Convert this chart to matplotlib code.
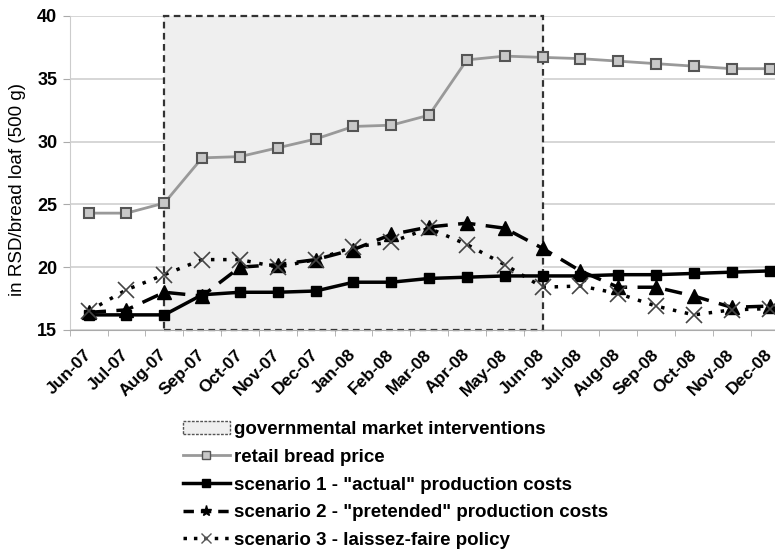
import matplotlib
matplotlib.use("Agg")
import matplotlib.pyplot as plt
from matplotlib.patches import Rectangle, Patch
from matplotlib.lines import Line2D

plt.rcParams['font.family'] = ['Liberation Sans', 'DejaVu Sans']
plt.rcParams['font.weight'] = 'bold'

# data
months = ['Jun-07', 'Jul-07', 'Aug-07', 'Sep-07', 'Oct-07', 'Nov-07', 'Dec-07',
          'Jan-08', 'Feb-08', 'Mar-08', 'Apr-08', 'May-08', 'Jun-08', 'Jul-08',
          'Aug-08', 'Sep-08', 'Oct-08', 'Nov-08', 'Dec-08']
retail = [24.3, 24.3, 25.1, 28.7, 28.8, 29.5, 30.2, 31.2, 31.3, 32.1, 36.5, 36.8,
          36.7, 36.6, 36.4, 36.2, 36.0, 35.8, 35.8]
scen1 = [16.2, 16.2, 16.2, 17.8, 18.0, 18.0, 18.1, 18.8, 18.8, 19.1, 19.2, 19.3,
         19.3, 19.3, 19.4, 19.4, 19.5, 19.6, 19.7]
scen2 = [16.4, 16.6, 18.0, 17.7, 20.0, 20.2, 20.6, 21.4, 22.6, 23.2, 23.5, 23.1,
         21.5, 19.7, 18.4, 18.4, 17.7, 16.8, 16.9]
scen3 = [16.5, 18.2, 19.4, 20.6, 20.6, 20.0, 20.6, 21.6, 22.0, 23.1, 21.8, 20.2,
         18.4, 18.5, 17.9, 16.9, 16.2, 16.6, 16.7]
interv_start, interv_end = 'Aug-07', 'Jun-08'

fig = plt.figure(figsize=(7.75, 5.49), dpi=100)
ax = fig.add_axes([0.09, 0.399, 0.92, 0.572])
x = list(range(len(months)))

# shaded period of interventions
i0, i1 = months.index(interv_start), months.index(interv_end)
ax.add_patch(Rectangle((i0, 15), i1 - i0, 25, facecolor='#efefef', edgecolor='#333333',
                       linestyle=(0, (3, 2)), linewidth=1.6, zorder=1, clip_on=False))

ax.plot(x, retail, color='#999999', lw=2, marker='s', ms=7, mfc='#c8c8c8',
        mec='#555555', mew=1.5, zorder=3)
ax.plot(x, scen1, color='black', lw=2.5, marker='s', ms=7, zorder=4)
ax.plot(x, scen2, color='black', lw=2.5, ls=(0, (5, 3)), marker='^', ms=9.5, zorder=4)
ax.plot(x, scen3, color='black', lw=2.5, ls=(0, (1, 2.5)), marker='x', ms=11, mew=1.2,
        mec='#444444', zorder=4)

ax.set_ylim(15, 40)
ax.set_yticks([15, 20, 25, 30, 35, 40])
ax.set_xlim(-0.5, 18.35)
ax.set_xticks(x)
ax.set_xticklabels(months, rotation=45, ha='right', va='center', rotation_mode='anchor')
ax.set_xticks([i + 0.5 for i in x[:-1]] + [-0.5], minor=True)
ax.tick_params(axis='x', which='major', length=0, labelsize=12.5, pad=16)
ax.tick_params(axis='x', which='minor', length=4, color='#aaaaaa')
ax.tick_params(axis='y', length=5, color='#aaaaaa', labelsize=13, pad=4)
ax.grid(axis='y', color='#d0d0d0', lw=1.2)
ax.set_axisbelow(True)
for s in ['top', 'right']:
    ax.spines[s].set_visible(False)
ax.spines['bottom'].set_color('#aaaaaa')
ax.spines['left'].set_color('#cccccc')
ax.set_ylabel('in RSD/bread loaf (500 g)', fontsize=13.5)
ax.yaxis.set_label_coords(-0.061, 0.446)

handles = [
    Patch(facecolor='#efefef', edgecolor='#555555', linestyle=(0, (2, 1)), lw=1),
    Line2D([], [], color='#999999', lw=2, marker='s', ms=6, mfc='#c8c8c8', mec='#555555'),
    Line2D([], [], color='black', lw=2.5, marker='s', ms=6),
    Line2D([], [], color='black', lw=2.5, ls=(0, (3, 2)), marker='*', ms=8),
    Line2D([], [], color='black', lw=2.5, ls=(0, (1, 2)), marker='x', ms=7, mec='#555555'),
]
labels = ['governmental market interventions', 'retail bread price',
          'scenario 1 - "actual" production costs',
          'scenario 2 - "pretended" production costs',
          'scenario 3 - laissez-faire policy']
fig.legend(handles, labels, loc='upper left', bbox_to_anchor=(0.224, 0.25),
           frameon=False, fontsize=13.5, handlelength=2.5, handletextpad=0.2,
           labelspacing=0.56, borderpad=0)

fig.savefig('out.png', dpi=100)
